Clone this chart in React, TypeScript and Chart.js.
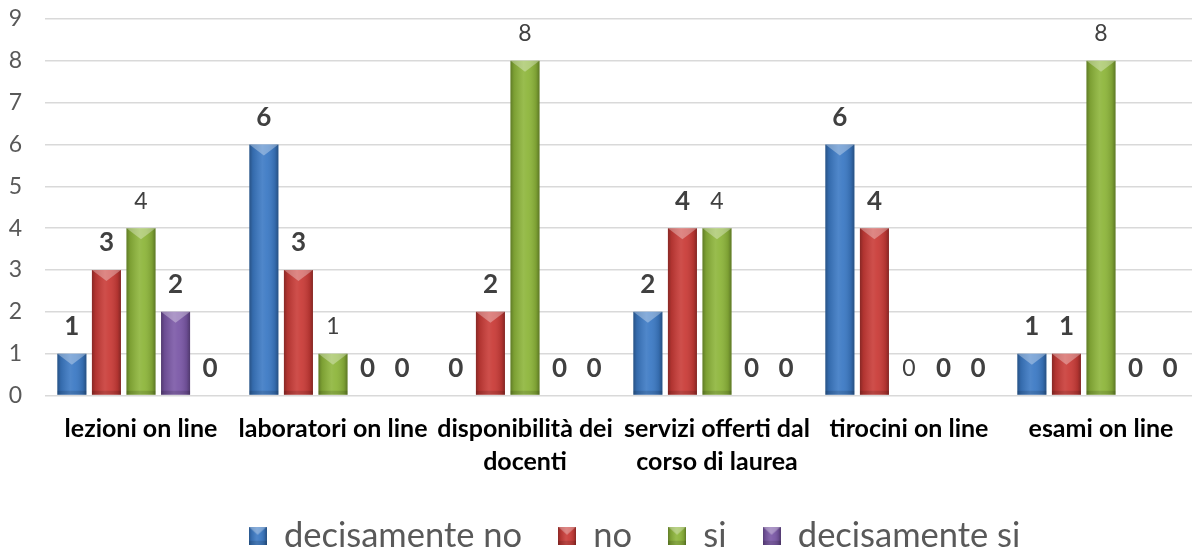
import React, { useEffect, useRef } from "react";
import { Chart, registerables } from "chart.js";

Chart.register(...registerables);

const categories: (string | string[])[] = [
  "lezioni on line",
  "laboratori on line",
  ["disponibilità dei", "docenti"],
  ["servizi offerti dal", "corso di laurea"],
  "tirocini on line",
  "esami on line",
];

const seriesNames = ["decisamente no", "no", "si", "decisamente si", ""];
const decisamenteNo = [1, 6, 0, 2, 6, 1];
const no = [3, 3, 2, 4, 4, 1];
const si = [4, 1, 8, 4, 0, 8];
const decisamenteSi = [2, 0, 0, 0, 0, 0];
const altro = [0, 0, 0, 0, 0, 0];

const yTicks = [0, 1, 2, 3, 4, 5, 6, 7, 8, 9];

const baseColors = ["#3B79C4", "#C93B37", "#8DB53A", "#7A57A6", "#E08A2E"];

const FONT = "Lato, 'Open Sans', 'DejaVu Sans', sans-serif";

function shadeBar(ctx: CanvasRenderingContext2D, left: number, top: number, width: number, h: number, bevelTop: number) {
  const right = left + width;
  const x = left + width / 2;
  const g = ctx.createLinearGradient(left, 0, right, 0);
  g.addColorStop(0, "rgba(0,0,0,0.32)");
  g.addColorStop(0.12, "rgba(0,0,0,0.12)");
  g.addColorStop(0.45, "rgba(255,255,255,0.10)");
  g.addColorStop(0.6, "rgba(255,255,255,0.06)");
  g.addColorStop(0.88, "rgba(0,0,0,0.12)");
  g.addColorStop(1, "rgba(0,0,0,0.34)");
  ctx.fillStyle = g;
  ctx.fillRect(left, top, width, h);
  const bev = Math.min(bevelTop, h);
  ctx.beginPath();
  ctx.moveTo(left, top);
  ctx.lineTo(right, top);
  ctx.lineTo(x, top + bev);
  ctx.closePath();
  ctx.fillStyle = "rgba(255,255,255,0.32)";
  ctx.fill();
  const bb = Math.min(4, h / 3);
  ctx.fillStyle = "rgba(0,0,0,0.12)";
  ctx.fillRect(left, top + h - bb, width, bb);
}

const barShading = {
  id: "barShading",
  afterDatasetsDraw(chart: any) {
    const ctx = chart.ctx;
    chart.data.datasets.forEach((_ds: any, di: number) => {
      const meta = chart.getDatasetMeta(di);
      if (meta.hidden) return;
      meta.data.forEach((el: any) => {
        const { x, y, base, width } = el.getProps(["x", "y", "base", "width"], true);
        const h = base - y;
        if (h <= 0.5) return;
        ctx.save();
        shadeBar(ctx, x - width / 2, y, width, h, width * 0.38);
        ctx.restore();
      });
    });
  },
};

const valueLabels = {
  id: "valueLabels",
  afterDatasetsDraw(chart: any) {
    const ctx = chart.ctx;
    chart.data.datasets.forEach((ds: any, di: number) => {
      const meta = chart.getDatasetMeta(di);
      meta.data.forEach((el: any, i: number) => {
        const { x, y } = el.getProps(["x", "y"], true);
        const v = ds.data[i];
        ctx.save();
        ctx.font = di === 2 ? `400 23px ${FONT}` : `700 26px ${FONT}`;
        ctx.fillStyle = "#404040";
        ctx.textAlign = "center";
        ctx.textBaseline = "middle";
        ctx.fillText(String(v), x, y - 27);
        ctx.restore();
      });
    });
  },
};

// shift the legend block so it is centred like in the original (wider) chart
const legendShift = {
  id: "legendShift",
  afterLayout(chart: any) {
    const lg = chart.legend;
    if (lg) {
      lg.left += 36;
      lg.right += 36;
    }
  },
};

function makeIcon(color: string) {
  const c = document.createElement("canvas");
  c.width = 18;
  c.height = 18;
  const ctx = c.getContext("2d")!;
  ctx.fillStyle = color;
  ctx.fillRect(0, 0, 18, 18);
  shadeBar(ctx, 0, 0, 18, 18, 8);
  return c;
}

export default function App() {
  const canvasRef = useRef<HTMLCanvasElement | null>(null);

  useEffect(() => {
    document.documentElement.style.overflow = "hidden";
    document.body.style.overflow = "hidden";
    const canvas = canvasRef.current;
    if (!canvas) return;
    const icons = baseColors.map((c) => makeIcon(c));
    const seriesData = [decisamenteNo, no, si, decisamenteSi, altro];
    const chart = new Chart(canvas, {
      type: "bar",
      data: {
        labels: categories,
        datasets: seriesData.map((d, i) => ({
          label: seriesNames[i],
          data: d,
          backgroundColor: baseColors[i],
          borderWidth: 0,
          barPercentage: 0.84,
          categoryPercentage: 0.9,
        })),
      },
      options: {
        responsive: false,
        devicePixelRatio: 1,
        animation: false,
        layout: { padding: { top: 19, left: 0, right: 3, bottom: -8 } },
        scales: {
          x: {
            grid: { display: false },
            border: { display: false },
            afterFit: (s: any) => {
              s.height = 87;
            },
            ticks: {
              color: "#000000",
              font: { family: FONT, size: 25, weight: "bold", lineHeight: "33px" },
              padding: 9,
              maxRotation: 0,
              autoSkip: false,
            },
          },
          y: {
            min: 0,
            max: 9,
            grid: { color: "#D9D9D9", lineWidth: 1.5, drawTicks: false },
            border: { display: false },
            afterBuildTicks: (scale: any) => {
              scale.ticks = yTicks.map((v) => ({ value: v }));
            },
            afterFit: (s: any) => {
              s.width = 45;
              s.paddingTop = 0;
              s.paddingBottom = 0;
            },
            ticks: {
              color: "#595959",
              font: { family: FONT, size: 23 },
              padding: 23,
            },
          },
        },
        plugins: {
          legend: {
            position: "bottom",
            labels: {
              color: "#595959",
              font: { family: FONT, size: 34.5 },
              boxWidth: 18,
              boxHeight: 18,
              padding: 36,
              usePointStyle: true,
              generateLabels: (ch: any) =>
                (Chart.defaults.plugins.legend.labels as any)
                  .generateLabels(ch)
                  .filter((it: any) => it.datasetIndex < 4)
                  .map((it: any) => ({ ...it, pointStyle: icons[it.datasetIndex] })),
            },
          },
          tooltip: { enabled: false },
        },
      },
      plugins: [barShading, valueLabels, legendShift],
    } as any);
    return () => chart.destroy();
  }, []);

  return (
    <div style={{ position: "fixed", left: 0, top: 0, width: 1200, height: 555, background: "#fff" }}>
      <canvas ref={canvasRef} width={1200} height={555} />
    </div>
  );
}
